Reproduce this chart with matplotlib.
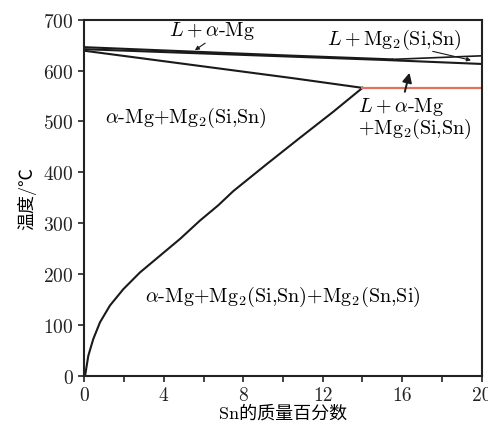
import matplotlib
matplotlib.use('Agg')
import matplotlib.pyplot as plt

plt.rcParams['font.family'] = ['cmr10', 'Noto Sans CJK SC']
plt.rcParams['mathtext.fontset'] = 'cm'
plt.rcParams['axes.formatter.use_mathtext'] = True

# liquidus (L / L+alpha-Mg), then L / L+Mg2 branch
liq_sn = [0, 5, 10, 15.5]
liq_t = [646, 638, 630, 622]
liq2_sn = [15.5, 20]
liq2_t = [622, 629]
# solidus of alpha-Mg, continuing as upper boundary of L+alpha+Mg2
sol_sn = [0, 5, 10, 15, 20]
sol_t = [642, 635, 628, 621, 613]
# upper solvus
solv_sn = [0, 3.5, 7, 10.5, 14]
solv_t = [639, 621, 603, 585, 566]
# lower solvus curve
low_sn = [0.04, 0.2, 0.45, 0.79, 1.29, 1.96, 2.8, 3.81, 4.82, 5.82, 6.74, 7.5,
          9.18, 10.86, 12.53, 14.0]
low_t = [0, 39, 72, 105, 138, 170, 203, 236, 269, 305, 335, 363,
         416, 468, 519, 566]
# horizontal three-phase line
red_sn = [14, 20]
red_t = [565, 565]

xticks = list(range(0, 21, 2))
xlabels = [str(v) if v % 4 == 0 else '' for v in xticks]
yticks = list(range(0, 701, 100))

fig = plt.figure(figsize=(4.89, 4.27), dpi=100)
ax = fig.add_axes([0.1724, 0.1178, 0.8126, 0.8337])

lc = '#1a1a1a'
ax.plot(liq_sn, liq_t, color=lc, lw=1.5)
ax.plot(liq2_sn, liq2_t, color=lc, lw=1.2)
ax.plot(sol_sn, sol_t, color=lc, lw=1.5)
ax.plot(solv_sn, solv_t, color=lc, lw=1.5)
ax.plot(low_sn, low_t, color=lc, lw=1.5)
ax.plot(red_sn, red_t, color='#e2725b', lw=1.6)

fs = 14.5
ax.text(6.45, 680, r'$L+\alpha$-Mg', fontsize=fs, ha='center', va='center')
ax.annotate('', xy=(5.45, 637), xytext=(6.2, 657),
            arrowprops=dict(arrowstyle='-|>', color=lc, lw=0.8, mutation_scale=6))
ax.text(15.6, 662, r'$L+$Mg$_2$(Si,Sn)', fontsize=fs, ha='center', va='center')
ax.annotate('', xy=(19.6, 619), xytext=(17.4, 639),
            arrowprops=dict(arrowstyle='-|>', color=lc, lw=0.8, mutation_scale=6))
ax.annotate('', xy=(16.4, 601), xytext=(16.1, 553),
            arrowprops=dict(arrowstyle='-|>', color=lc, lw=1.4, mutation_scale=14))
ax.text(13.77, 531, r'$L+\alpha$-Mg', fontsize=fs, ha='left', va='center')
ax.text(13.8, 488, r'$+$Mg$_2$(Si,Sn)', fontsize=fs, ha='left', va='center')
ax.text(1.04, 508, r'$\alpha$-Mg$+$Mg$_2$(Si,Sn)', fontsize=fs, ha='left', va='center')
ax.text(3.05, 157, r'$\alpha$-Mg$+$Mg$_2$(Si,Sn)$+$Mg$_2$(Sn,Si)', fontsize=fs,
        ha='left', va='center')

ax.set_xlim(0, 20)
ax.set_ylim(0, 700)
ax.set_xticks(xticks)
ax.set_xticklabels(xlabels)
ax.set_yticks(yticks)
ax.tick_params(direction='out', length=4, width=1.2, labelsize=14, colors='#222222')
for s in ax.spines.values():
    s.set_linewidth(1.5)
    s.set_color('#222222')

ax.set_xlabel('Sn的质量百分数', fontsize=13, labelpad=0)
ax.set_ylabel('温度/℃', fontsize=13, labelpad=5)

fig.savefig('out.png', dpi=100)
